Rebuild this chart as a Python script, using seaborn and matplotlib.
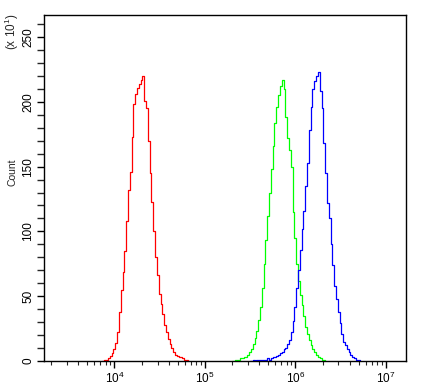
import numpy as np
import pandas as pd
import seaborn as sns
import matplotlib.pyplot as plt
from matplotlib.ticker import LogLocator, MultipleLocator, NullFormatter

# Histogram bins (log10 of intensity, 0.02 decade apart) and counts (x10)
red_log = [3.86, 3.88, 3.90, 3.92, 3.94, 3.96, 3.98, 4.00, 4.02, 4.04, 4.06, 4.08,
           4.10, 4.12, 4.14, 4.16, 4.18, 4.20, 4.22, 4.24, 4.26, 4.28, 4.30, 4.32,
           4.34, 4.36, 4.38, 4.40, 4.42, 4.44, 4.46, 4.48, 4.50, 4.52, 4.54, 4.56,
           4.58, 4.60, 4.62, 4.64, 4.66, 4.68, 4.70, 4.72, 4.74, 4.76, 4.78, 4.80, 4.82]
red_count = [0, 0, 1, 1, 2, 4, 6, 9, 14, 22, 38, 55,
             69, 85, 108, 132, 146, 173, 198, 206, 211, 214, 217, 220,
             201, 195, 170, 145, 123, 100, 80, 66, 52, 44, 36, 28,
             22, 17, 13, 10, 7, 5, 4, 3, 3, 2, 1, 1, 0]

green_log = [5.30, 5.32, 5.34, 5.36, 5.38, 5.40, 5.42, 5.44, 5.46, 5.48, 5.50, 5.52,
             5.54, 5.56, 5.58, 5.60, 5.62, 5.64, 5.66, 5.68, 5.70, 5.72, 5.74, 5.76,
             5.78, 5.80, 5.82, 5.84, 5.86, 5.88, 5.90, 5.92, 5.94, 5.96, 5.98, 6.00,
             6.02, 6.04, 6.06, 6.08, 6.10, 6.12, 6.14, 6.16, 6.18, 6.20, 6.22, 6.24,
             6.26, 6.28, 6.30, 6.32, 6.34]
green_count = [0, 0, 1, 1, 1, 2, 2, 3, 3, 5, 7, 9,
               13, 18, 23, 32, 42, 56, 75, 93, 112, 130, 148, 166,
               184, 196, 205, 212, 217, 210, 188, 172, 163, 150, 115, 95,
               75, 62, 51, 43, 35, 26, 21, 16, 12, 9, 7, 5,
               3, 2, 1, 1, 0]

blue_log = [5.50, 5.52, 5.54, 5.56, 5.58, 5.60, 5.62, 5.64, 5.66, 5.68, 5.70, 5.72,
            5.74, 5.76, 5.78, 5.80, 5.82, 5.84, 5.86, 5.88, 5.90, 5.92, 5.94, 5.96,
            5.98, 6.00, 6.02, 6.04, 6.06, 6.08, 6.10, 6.12, 6.14, 6.16, 6.18, 6.20,
            6.22, 6.24, 6.26, 6.28, 6.30, 6.32, 6.34, 6.36, 6.38, 6.40, 6.42, 6.44,
            6.46, 6.48, 6.50, 6.52, 6.54, 6.56, 6.58, 6.60, 6.62, 6.64, 6.66, 6.68,
            6.70, 6.72]
blue_count = [0, 0, 1, 0, 1, 1, 1, 1, 1, 1, 2, 1,
              2, 3, 3, 4, 5, 6, 7, 9, 10, 13, 16, 22,
              31, 42, 56, 70, 86, 102, 116, 135, 153, 178, 196, 210,
              216, 220, 223, 208, 195, 168, 145, 122, 110, 90, 74, 58,
              48, 38, 29, 21, 15, 12, 9, 7, 5, 3, 2, 1,
              1, 0]

sns.set_style("ticks")
plt.rcParams["font.family"] = ["Liberation Sans", "DejaVu Sans"]
plt.rcParams["mathtext.fontset"] = "custom"
plt.rcParams["mathtext.rm"] = "Liberation Sans"
plt.rcParams["mathtext.it"] = "Liberation Sans"

fig = plt.figure(figsize=(4.22, 3.91), dpi=100)
ax = fig.add_axes([44 / 422, 30 / 391, 362 / 422, 346 / 391])

for logs, counts, color in [(red_log, red_count, "#ff0000"),
                            (green_log, green_count, "#00ff00"),
                            (blue_log, blue_count, "#0000ff")]:
    df = pd.DataFrame({"x": 10 ** np.array(logs), "y": counts})
    sns.lineplot(data=df, x="x", y="y", ax=ax, color=color, lw=0.9,
                 estimator=None, drawstyle="steps-mid")

ax.set_xscale("log")
ax.set_xlim(10 ** 3.222, 10 ** 7.224)
ax.set_ylim(0, 267)

ax.xaxis.set_major_locator(LogLocator(base=10, numticks=10))
ax.xaxis.set_minor_locator(LogLocator(base=10, subs=np.arange(2, 10), numticks=20))
ax.xaxis.set_minor_formatter(NullFormatter())
ax.yaxis.set_major_locator(MultipleLocator(50))
ax.yaxis.set_minor_locator(MultipleLocator(10))

ax.tick_params(axis="both", which="major", direction="out", length=5, width=1,
               colors="black", labelsize=8.5, pad=2)
ax.tick_params(axis="x", which="minor", length=3, width=0.8)
ax.tick_params(axis="y", which="minor", length=5, width=1)
for lab in ax.get_yticklabels():
    lab.set_rotation(90)
    lab.set_va("center")

for s in ax.spines.values():
    s.set_visible(True)
    s.set_linewidth(1)
    s.set_color("black")

ax.set_xlabel("")
ax.set_ylabel("")
fig.text(12 / 422, 1 - 172 / 391, "Count", rotation=90, fontsize=7.5,
         ha="center", va="center")
fig.text(12 / 422, 1 - 32 / 391, r"(x 10$^{1}$)", rotation=90, fontsize=8.5,
         ha="center", va="center")

fig.savefig("out.png", dpi=100)
